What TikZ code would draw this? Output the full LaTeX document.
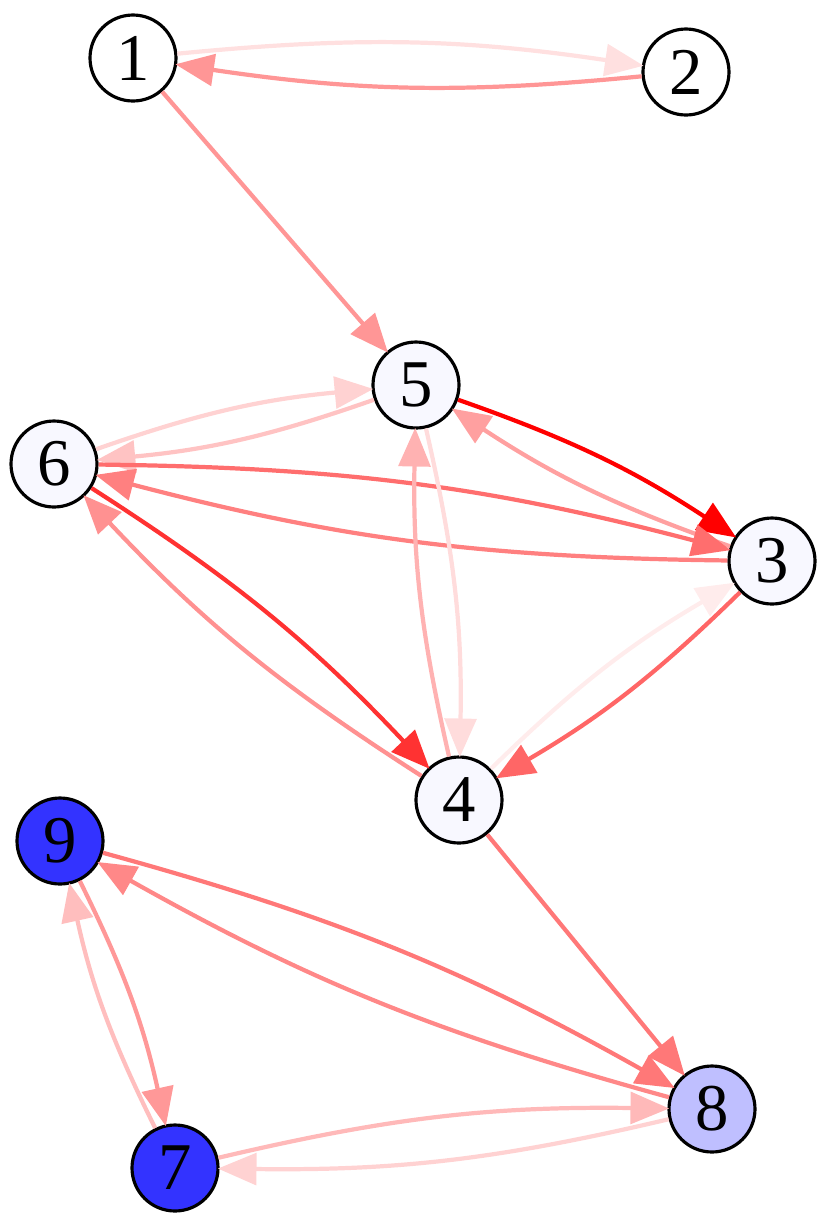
\documentclass[tikz,border=0pt]{standalone}
\usepackage{fontspec}
\setmainfont{Liberation Serif}
\usetikzlibrary{arrows.meta}

\definecolor{paleblue}{HTML}{F8F8FF}
\definecolor{midblue}{HTML}{BFBFFF}
\definecolor{deepblue}{HTML}{3333FF}

\begin{document}
\begin{tikzpicture}[
  >={Triangle[length=11pt,width=9pt]},
  vertex/.style={circle,draw=black,line width=.9pt,minimum size=.86cm,
    inner sep=0pt,font=\fontsize{19}{19}\selectfont},
  link/.style={->,line width=1.2pt,shorten >=-.5pt},
  curvy/.style={bend left=7}
]
  \useasboundingbox (0,0) rectangle (8.3,-12.29);

  % vertices
  \node[vertex,fill=white]     (v1) at (1.33,-0.58)  {1};
  \node[vertex,fill=white]     (v2) at (6.86,-0.72)  {2};
  \node[vertex,fill=paleblue]  (v5) at (4.16,-3.85)  {5};
  \node[vertex,fill=paleblue]  (v6) at (0.54,-4.64)  {6};
  \node[vertex,fill=paleblue]  (v3) at (7.72,-5.61)  {3};
  \node[vertex,fill=paleblue]  (v4) at (4.59,-8.00)  {4};
  \node[vertex,fill=deepblue]  (v9) at (0.60,-8.41)  {9};
  \node[vertex,fill=midblue]   (v8) at (7.12,-11.09) {8};
  \node[vertex,fill=deepblue]  (v7) at (1.75,-11.68) {7};

  % edges
  \draw[link,draw={rgb,255:red,255;green,224;blue,224}] (v1) to[curvy] (v2);
  \draw[link,draw={rgb,255:red,255;green,150;blue,150}] (v2) to[curvy] (v1);
  \draw[link,draw={rgb,255:red,255;green,150;blue,150}] (v1) -- (v5);
  \draw[link,draw={rgb,255:red,255;green,0;blue,0}]     (v5) to[curvy] (v3);
  \draw[link,draw={rgb,255:red,255;green,160;blue,160}] (v3) to[curvy] (v5);
  \draw[link,draw={rgb,255:red,255;green,210;blue,210}] (v6) to[curvy] (v5);
  \draw[link,draw={rgb,255:red,255;green,195;blue,195}] (v5) to[curvy] (v6);
  \draw[link,draw={rgb,255:red,255;green,110;blue,110}] (v6) to[curvy] (v3);
  \draw[link,draw={rgb,255:red,255;green,128;blue,128}] (v3) to[curvy] (v6);
  \draw[link,draw={rgb,255:red,255;green,50;blue,50}]   (v6) to[curvy] (v4);
  \draw[link,draw={rgb,255:red,255;green,145;blue,145}] (v4) to[curvy] (v6);
  \draw[link,draw={rgb,255:red,255;green,178;blue,178}] (v4) to[curvy] (v5);
  \draw[link,draw={rgb,255:red,255;green,220;blue,220}] (v5) to[curvy] (v4);
  \draw[link,draw={rgb,255:red,255;green,236;blue,236}] (v4) to[curvy] (v3);
  \draw[link,draw={rgb,255:red,255;green,102;blue,102}] (v3) to[curvy] (v4);
  \draw[link,draw={rgb,255:red,255;green,120;blue,120}] (v4) -- (v8);
  \draw[link,draw={rgb,255:red,255;green,120;blue,120}] (v9) to[curvy] (v8);
  \draw[link,draw={rgb,255:red,255;green,136;blue,136}] (v8) to[curvy] (v9);
  \draw[link,draw={rgb,255:red,255;green,152;blue,152}] (v9) to[curvy] (v7);
  \draw[link,draw={rgb,255:red,255;green,190;blue,190}] (v7) to[curvy] (v9);
  \draw[link,draw={rgb,255:red,255;green,185;blue,185}] (v7) to[curvy] (v8);
  \draw[link,draw={rgb,255:red,255;green,210;blue,210}] (v8) to[curvy] (v7);
\end{tikzpicture}
\end{document}
